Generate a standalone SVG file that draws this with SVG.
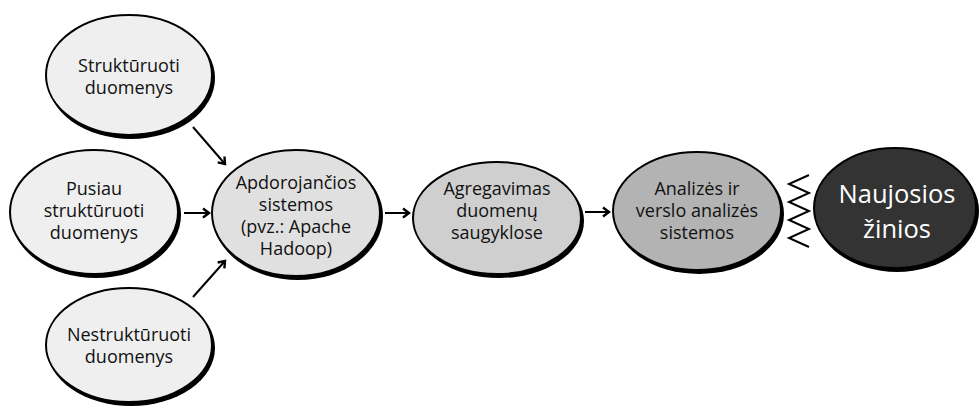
<svg xmlns="http://www.w3.org/2000/svg" width="979" height="408" viewBox="0 0 979 408">
<style>
.sh{fill:#000}
.el{stroke:#000;stroke-width:2}
.t{font-family:"Open Sans","Noto Sans",sans-serif;font-size:18px;fill:#111;text-anchor:middle}
.tb{font-family:"Open Sans","Noto Sans",sans-serif;font-size:25.5px;fill:#fff;text-anchor:middle}
.ln{stroke:#000;stroke-width:2;fill:none}
</style>
<defs>
<marker id="ah" markerUnits="userSpaceOnUse" markerWidth="12" markerHeight="12" refX="7" refY="5" orient="auto" viewBox="0 0 12 10">
<path d="M1,0.5 L7,5 L1,9.5" fill="none" stroke="#000" stroke-width="2.4"/>
</marker>
</defs>
<rect width="979" height="408" fill="#fff"/>
<g id="connectors">
<line class="ln" x1="193" y1="127" x2="225" y2="164" marker-end="url(#ah)"/>
<line class="ln" x1="184" y1="213" x2="209" y2="213" marker-end="url(#ah)"/>
<line class="ln" x1="193" y1="297" x2="225" y2="261" marker-end="url(#ah)"/>
<line class="ln" x1="385" y1="213" x2="409" y2="213" marker-end="url(#ah)"/>
<line class="ln" x1="585" y1="212" x2="609" y2="212" marker-end="url(#ah)"/>
<polyline class="ln" points="809,175 789,184 809,193 789,202 809,211 789,220 809,229 789,238 809,247"/>
</g>
<g id="node-strukturuoti">
<ellipse class="sh" cx="131" cy="78" rx="84" ry="61"/>
<ellipse class="el" cx="129" cy="75" rx="83" ry="60" fill="#efefef"/>
<text class="t" x="129" y="72">Struktūruoti</text>
<text class="t" x="129" y="94">duomenys</text>
</g>
<g id="node-pusiau">
<ellipse class="sh" cx="96" cy="215" rx="85" ry="63"/>
<ellipse class="el" cx="94" cy="212" rx="84" ry="62" fill="#efefef"/>
<text class="t" x="94" y="195">Pusiau</text>
<text class="t" x="94" y="217">struktūruoti</text>
<text class="t" x="94" y="239">duomenys</text>
</g>
<g id="node-nestrukturuoti">
<ellipse class="sh" cx="131" cy="348" rx="84" ry="58"/>
<ellipse class="el" cx="129" cy="345" rx="83" ry="57" fill="#efefef"/>
<text class="t" x="129" y="341">Nestruktūruoti</text>
<text class="t" x="129" y="363">duomenys</text>
</g>
<g id="node-apdorojancios">
<ellipse class="sh" cx="298" cy="216" rx="85" ry="64"/>
<ellipse class="el" cx="296" cy="213" rx="84" ry="63" fill="#e0e0e0"/>
<text class="t" x="296" y="189">Apdorojančios</text>
<text class="t" x="296" y="211">sistemos</text>
<text class="t" x="296" y="233">(pvz.: Apache</text>
<text class="t" x="296" y="255">Hadoop)</text>
</g>
<g id="node-agregavimas">
<ellipse class="sh" cx="499" cy="221" rx="85" ry="57"/>
<ellipse class="el" cx="497" cy="218" rx="84" ry="56" fill="#cfcfcf"/>
<text class="t" x="497" y="195">Agregavimas</text>
<text class="t" x="497" y="217">duomenų</text>
<text class="t" x="497" y="239">saugyklose</text>
</g>
<g id="node-analizes">
<ellipse class="sh" cx="699" cy="214" rx="85" ry="60"/>
<ellipse class="el" cx="697" cy="211" rx="84" ry="59" fill="#b3b3b3"/>
<text class="t" x="697" y="195">Analizės ir</text>
<text class="t" x="697" y="217">verslo analizės</text>
<text class="t" x="697" y="239">sistemos</text>
</g>
<g id="node-naujosios">
<ellipse class="sh" cx="897" cy="211" rx="82" ry="61"/>
<ellipse class="el" cx="895" cy="208" rx="81" ry="60" fill="#333333"/>
<text class="tb" x="897" y="203">Naujosios</text>
<text class="tb" x="897" y="238">žinios</text>
</g>
</svg>
